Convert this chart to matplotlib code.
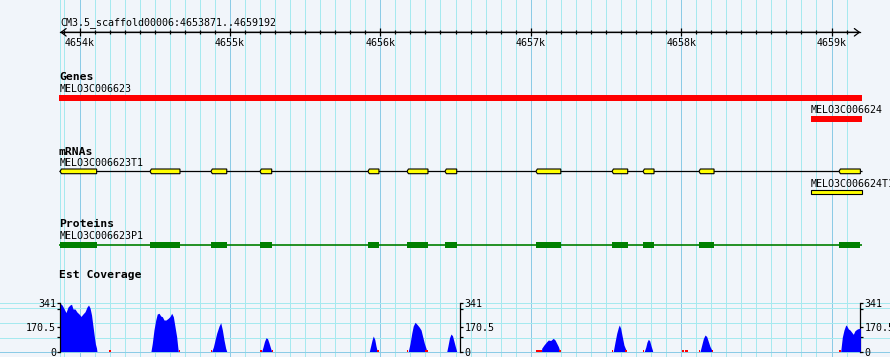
import numpy as np
import matplotlib
matplotlib.use("Agg")
import matplotlib.pyplot as plt
from matplotlib.patches import Rectangle, Polygon
from matplotlib.ticker import MultipleLocator, FuncFormatter, FixedLocator

# ------------------------------------------------------------------ data
region_name = "CM3.5_scaffold00006"
region_start = 4653871
region_end = 4659192

gene_names = ["MELO3C006623", "MELO3C006624"]
gene_starts = [4653871, 4658864]
gene_ends = [4659192, 4659192]

mrna_names = ["MELO3C006623T1", "MELO3C006624T1"]
exon_starts_t1 = [4653871, 4654469, 4654874, 4655200, 4655918, 4656178,
                  4656430, 4657035, 4657541, 4657747, 4658119, 4659050]
exon_ends_t1 = [4654114, 4654668, 4654979, 4655278, 4655991, 4656317,
                4656508, 4657200, 4657645, 4657820, 4658219, 4659192]
exon_starts_t2 = [4658864]
exon_ends_t2 = [4659192]

protein_name = "MELO3C006623P1"
cds_starts = exon_starts_t1
cds_ends = exon_ends_t1

cov_max = 341
cov_ticks = [0, 170.5, 341]
cov_tick_labels = ["0", "170.5", "341"]
cov_pos = [
    4653871, 4653884, 4653897, 4653910, 4653924, 4653937, 4653947, 4653957,
    4653970, 4653983, 4653997, 4654010, 4654023, 4654037, 4654050, 4654060,
    4654070, 4654080, 4654086, 4654093, 4654100, 4654106, 4654113, 4654116,
    4654475, 4654484, 4654495, 4654507, 4654517, 4654529, 4654540, 4654551,
    4654562, 4654575, 4654590, 4654602, 4654613, 4654624, 4654635, 4654646,
    4654653, 4654657,
    4654879, 4654890, 4654912, 4654928, 4654939, 4654950, 4654961, 4654972, 4654979,
    4655211, 4655220, 4655230, 4655240, 4655250, 4655260, 4655270, 4655278,
    4655927, 4655935, 4655945, 4655953, 4655963, 4655971, 4655980,
    4656186, 4656198, 4656209, 4656219, 4656231, 4656242, 4656257, 4656271,
    4656282, 4656293, 4656304, 4656309,
    4656442, 4656450, 4656460, 4656470, 4656480, 4656490, 4656500, 4656508,
    4657072, 4657073, 4657088, 4657106, 4657117, 4657133, 4657150, 4657162,
    4657173, 4657184, 4657195,
    4657549, 4657561, 4657572, 4657583, 4657589, 4657598, 4657609, 4657620,
    4657632, 4657636,
    4657755, 4657765, 4657773, 4657782, 4657791, 4657800, 4657809, 4657811,
    4658126, 4658137, 4658148, 4658159, 4658170, 4658181, 4658192, 4658204, 4658208,
    4659061, 4659072, 4659083, 4659095, 4659101, 4659112, 4659123, 4659134,
    4659145, 4659156, 4659168, 4659178, 4659190, 4659192,
]
cov_val = [
    337, 325, 300, 272, 311, 325, 330, 297,
    297, 276, 262, 245, 262, 278, 311, 325,
    304, 255, 206, 150, 94, 52, 24, 0,
    0, 57, 150, 220, 262, 267, 248, 243,
    220, 220, 232, 245, 267, 243, 173, 103,
    34, 0,
    0, 31, 127, 178, 201, 150, 80, 22, 0,
    0, 30, 70, 96, 90, 60, 25, 0,
    0, 35, 80, 108, 85, 40, 0,
    0, 57, 127, 178, 204, 192, 173, 150,
    103, 57, 22, 0,
    0, 40, 95, 122, 110, 70, 30, 0,
    0, 22, 45, 68, 80, 77, 92, 80,
    57, 34, 0,
    0, 68, 127, 169, 185, 162, 103, 45,
    14, 0,
    0, 30, 65, 85, 75, 40, 10, 0,
    0, 45, 90, 115, 105, 70, 35, 10, 0,
    0, 100, 150, 185, 180, 158, 150, 135,
    120, 145, 155, 160, 162, 162,
]
low_starts = [4654194, 4654660, 4654872, 4655200, 4655278, 4655976, 4656176,
              4656299, 4657035, 4657190, 4657539, 4657627, 4657745, 4658004,
              4658026, 4658117, 4658204, 4659050]
low_ends = [4654207, 4654668, 4654879, 4655211, 4655285, 4655989, 4656186,
            4656315, 4657073, 4657200, 4657549, 4657642, 4657755, 4658019,
            4658044, 4658126, 4658214, 4659061]
low_val = 12

# ------------------------------------------------------------------ style
W, H = 890, 357
BG = "#f1f5fa"
GRID = "#a6e9ef"
GRID_MAJ = "#8ccbe6"
FONT = "DejaVu Sans Mono"
FS = 7.2
FSB = 8.2
LW1 = 0.72  # one pixel

PX_PER_BP = 0.1504
X0_BP = 4654000 - 79.5 / PX_PER_BP
X1_BP = X0_BP + W / PX_PER_BP

fig = plt.figure(figsize=(W / 100, H / 100), dpi=100, facecolor=BG)
ax = fig.add_axes([0, 0, 1, 1])
ax.set_xlim(X0_BP, X1_BP)
ax.set_ylim(H, 0)
ax.set_axis_off()


def fig_box(x0, x1, ytop, ybot):
    inv = fig.transFigure.inverted()
    fx0, fy0 = inv.transform(ax.transData.transform((x0, ybot)))
    fx1, fy1 = inv.transform(ax.transData.transform((x1, ytop)))
    return [fx0, fy0, fx1 - fx0, fy1 - fy0]


# grid
grid_pos = np.arange(4653900, region_end, 100)
minor_grid = [region_start] + [p for p in grid_pos if p % 1000]
major_grid = [p for p in grid_pos if p % 1000 == 0]
ax.vlines(minor_grid, 0, H, color=GRID, lw=LW1, zorder=0, antialiased=False)
ax.vlines(major_grid, 0, H, color=GRID_MAJ, lw=LW1, zorder=0, antialiased=False)
ax.hlines([302.7, 307.7, 322.7, 337.7], X0_BP, X1_BP, color=GRID, lw=LW1,
          zorder=0, antialiased=False)
ax.hlines([351.7], X0_BP, X1_BP, color=GRID_MAJ, lw=LW1, zorder=0, antialiased=False)

# title
ax.text(region_start, 25, f"{region_name}:{region_start}..{region_end}",
        fontsize=FS, family=FONT, ha="left", va="baseline")

# ruler
ruler = fig.add_axes(fig_box(region_start, region_end, 32.3, 32.4))
ruler.set_xlim(region_start, region_end)
ruler.patch.set_visible(False)
for s in ("top", "left", "right"):
    ruler.spines[s].set_visible(False)
ruler.spines["bottom"].set_linewidth(0.9)
ruler.set_yticks([])
ruler.xaxis.set_major_locator(MultipleLocator(1000))
ruler.xaxis.set_minor_locator(MultipleLocator(100))
ruler.xaxis.set_major_formatter(FuncFormatter(lambda v, p: f"{int(round(v / 1000))}k"))
ruler.tick_params(axis="x", which="major", direction="inout", length=5.5,
                  width=0.9, pad=1.5, labelsize=FS)
ruler.tick_params(axis="x", which="minor", direction="inout", length=3.1, width=0.9)
for lab in ruler.get_xticklabels():
    lab.set_family(FONT)
ax.annotate("", xy=(region_start, 32.3), xytext=(region_end, 32.3),
            arrowprops=dict(arrowstyle="<->,head_length=0.4,head_width=0.3",
                            mutation_scale=9, lw=0.9, color="black",
                            shrinkA=0, shrinkB=0))

# Genes track
ax.text(region_start - 8, 80, "Genes", fontsize=FSB, family=FONT,
        weight="bold", ha="left", va="baseline")
ax.text(gene_starts[0], 92, gene_names[0], fontsize=FS, family=FONT,
        ha="left", va="baseline")
ax.add_patch(Rectangle((gene_starts[0] - 8, 95), gene_ends[0] - gene_starts[0] + 18,
                       5.7, facecolor="#ff0000", lw=0))
ax.text(gene_starts[1], 113.3, gene_names[1], fontsize=FS, family=FONT,
        ha="left", va="baseline")
ax.add_patch(Rectangle((gene_starts[1], 116), gene_ends[1] - gene_starts[1] + 10,
                       5.7, facecolor="#ff0000", lw=0))

# mRNA track
ax.text(region_start - 8, 155, "mRNAs", fontsize=FSB, family=FONT,
        weight="bold", ha="left", va="baseline")
ax.text(region_start, 166, mrna_names[0], fontsize=FS, family=FONT,
        ha="left", va="baseline")
ax.hlines(171.2, region_start - 8, region_end + 10, color="black", lw=0.9)
taper = 9
for s, e in zip(exon_starts_t1, exon_ends_t1):
    yt, yb, ym = 169.0, 173.7, 171.35
    pts = [(s, ym), (s + taper, yt), (e, yt), (e, yb), (s + taper, yb)]
    ax.add_patch(Polygon(pts, closed=True, facecolor="#ffff00",
                         edgecolor="black", lw=0.8, zorder=3))
ax.text(exon_starts_t2[0], 187.3, mrna_names[1], fontsize=FS, family=FONT,
        ha="left", va="baseline")
for s, e in zip(exon_starts_t2, exon_ends_t2):
    ax.add_patch(Rectangle((s, 190.2), e - s + 8, 4.0, facecolor="#ffff00",
                           edgecolor="black", lw=0.8, zorder=3))

# Proteins track
ax.text(region_start - 8, 227.3, "Proteins", fontsize=FSB, family=FONT,
        weight="bold", ha="left", va="baseline")
ax.text(region_start, 239, protein_name, fontsize=FS, family=FONT,
        ha="left", va="baseline")
ax.hlines(244.5, region_start - 8, region_end + 10, color="#008000", lw=1.2)
for s, e in zip(cds_starts, cds_ends):
    ax.add_patch(Rectangle((s, 241.7), e - s, 6.0, facecolor="#008000", lw=0, zorder=3))

# Coverage track
ax.text(region_start - 8, 277.5, "Est Coverage", fontsize=FSB, family=FONT,
        weight="bold", ha="left", va="baseline")

cov = fig.add_axes(fig_box(region_start, region_end, 302.7, 351.5))
cov.set_xlim(region_start, region_end)
cov.set_ylim(0, cov_max)
cov.patch.set_visible(False)
for s in ("top", "bottom", "right"):
    cov.spines[s].set_visible(False)
cov.spines["left"].set_linewidth(0.9)
cov.set_xticks([])
cov.fill_between(cov_pos, cov_val, 0, color="#0000ff", lw=0)
cov.bar(low_starts, low_val, width=np.array(low_ends) - np.array(low_starts),
        align="edge", color="#ff0000", lw=0)

minor_cov = [100, 300]
for axis_obj, side in ((cov, "left"),
                       (cov.secondary_yaxis(0.5), "right"),
                       (cov.secondary_yaxis("right"), "right")):
    axis_obj.set_yticks(cov_ticks, labels=cov_tick_labels)
    axis_obj.yaxis.set_minor_locator(FixedLocator(minor_cov))
    axis_obj.tick_params(axis="y", which="both", length=2.2, width=0.9,
                         pad=0.8, labelsize=FS)
    for lab in axis_obj.get_yticklabels():
        lab.set_family(FONT)
    if side == "right":
        axis_obj.spines[side].set_linewidth(0.9)

fig.savefig("out.png", dpi=100, facecolor=BG)
